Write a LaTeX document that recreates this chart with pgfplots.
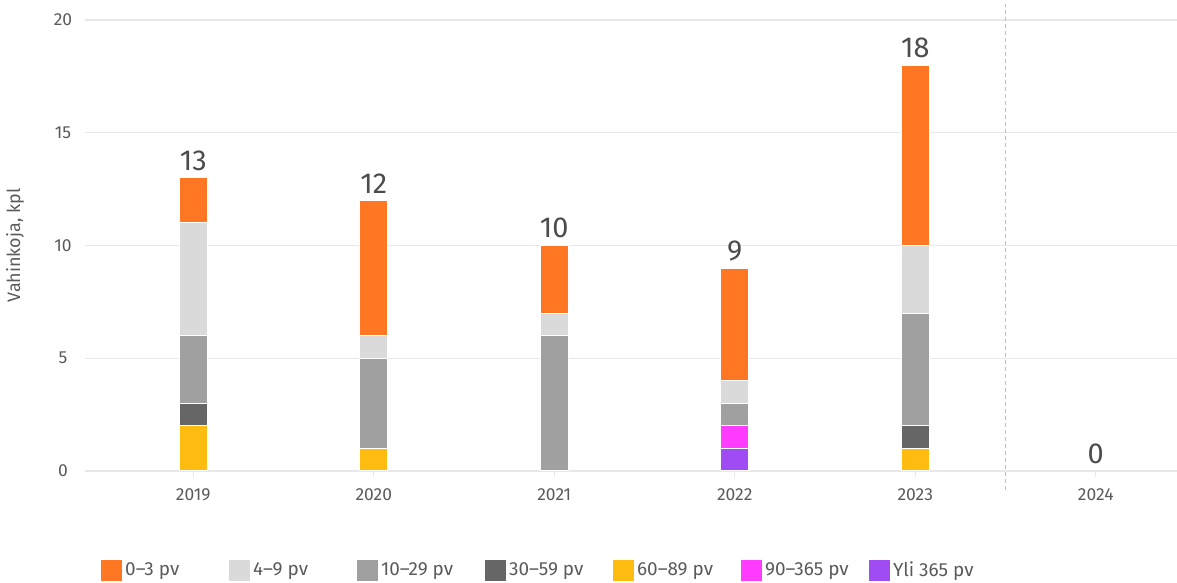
\documentclass[border=0pt]{standalone}
\usepackage{fontspec}
\setmainfont{Fira Sans}
\usepackage{pgfplots}
\pgfplotsset{compat=1.18}
\definecolor{cA}{HTML}{FF7722}
\definecolor{cB}{HTML}{DADADA}
\definecolor{cC}{HTML}{A0A0A0}
\definecolor{cD}{HTML}{666666}
\definecolor{cE}{HTML}{FFBC10}
\definecolor{cF}{HTML}{FF3CFF}
\definecolor{cG}{HTML}{9F4CF5}
\definecolor{gridc}{HTML}{E8E8E8}
\definecolor{txt}{HTML}{5A5A5A}
\newcommand{\legtxt}[1]{\makebox[101bp][l]{#1}}
\pgfplotsset{
  base/.style={
    at={(85bp,112bp)}, anchor=south west,
    scale only axis, width=1092bp, height=451bp,
    xmin=-0.6, xmax=5.45, ymin=0, ymax=20,
    clip=false,
  }
}
\begin{document}
\begin{tikzpicture}[x=1bp,y=1bp]
\path[use as bounding box] (0,0) rectangle (1177,583);
\begin{axis}[
  base,
  ybar stacked, bar width=28bp,
  xtick={0,1,2,3,4,5},
  xticklabels={2019,2020,2021,2022,2023,2024},
  ytick={0,5,10,15,20},
  ymajorgrids, grid style={draw=gridc, line width=1.2bp},
  axis line style={draw=none},
  tick align=outside, tick pos=left,
  major tick length=6bp,
  xtick style={draw=gridc, line width=1bp},
  ytick style={draw=none},
  /pgf/number format/assume math mode=true,
  ticklabel style={font=\fontsize{17.5}{20}\selectfont, text=txt},
  xticklabel style={yshift=-8bp},
  yticklabel style={anchor=center, xshift=-16bp},
  ylabel={Vahinkoja, kpl},
  ylabel style={at={(axis description cs:-0.064,0.5)}, anchor=center, rotate=0, font=\fontsize{18}{20}\selectfont, text=txt},
  legend columns=7,
  legend style={draw=none, fill=none, at={(0.011,-0.22)}, anchor=west,
    font=\fontsize{19}{22}\selectfont, text=txt,
    /tikz/every even column/.append style={column sep=0bp}},
  legend image code/.code={\fill[#1] (0bp,-11bp) rectangle (22bp,11bp);},
  every axis plot/.append style={draw=white, line width=1bp},
]
\addlegendimage{fill=cA}\addlegendentry{\legtxt{0–3 pv}}
\addlegendimage{fill=cB}\addlegendentry{\legtxt{4–9 pv}}
\addlegendimage{fill=cC}\addlegendentry{\legtxt{10–29 pv}}
\addlegendimage{fill=cD}\addlegendentry{\legtxt{30–59 pv}}
\addlegendimage{fill=cE}\addlegendentry{\legtxt{60–89 pv}}
\addlegendimage{fill=cF}\addlegendentry{\legtxt{90–365 pv}}
\addlegendimage{fill=cG}\addlegendentry{Yli 365 pv}
% Yli 365 pv
\addplot[fill=cG, forget plot] coordinates {(0,0) (1,0) (2,0) (3,1) (4,0) (5,0)};
% 90-365 pv
\addplot[fill=cF, forget plot] coordinates {(0,0) (1,0) (2,0) (3,1) (4,0) (5,0)};
% 60-89 pv
\addplot[fill=cE, forget plot] coordinates {(0,2) (1,1) (2,0) (3,0) (4,1) (5,0)};
% 30-59 pv
\addplot[fill=cD, forget plot] coordinates {(0,1) (1,0) (2,0) (3,0) (4,1) (5,0)};
% 10-29 pv
\addplot[fill=cC, forget plot] coordinates {(0,3) (1,4) (2,6) (3,1) (4,5) (5,0)};
% 4-9 pv
\addplot[fill=cB, forget plot] coordinates {(0,5) (1,1) (2,1) (3,1) (4,3) (5,0)};
% 0-3 pv
\addplot[fill=cA, forget plot] coordinates {(0,2) (1,6) (2,3) (3,5) (4,8) (5,0)};
\draw[draw=black!25, line width=1bp, dash pattern=on 4bp off 3bp] (axis cs:4.5,-0.85) -- (axis cs:4.5,20.7);
\end{axis}
% totals
\begin{axis}[base, hide axis]
\addplot[draw=none, mark=none,
  nodes near coords, point meta=explicit symbolic,
  every node near coord/.append style={font=\fontsize{29}{32}\selectfont, text=black!70, anchor=south, inner sep=2bp, yshift=5bp}]
  coordinates {(0,13) [13] (1,12) [12] (2,10) [10] (3,9) [9] (4,18) [18] (5,0) [0]};
\end{axis}
\end{tikzpicture}
\end{document}
